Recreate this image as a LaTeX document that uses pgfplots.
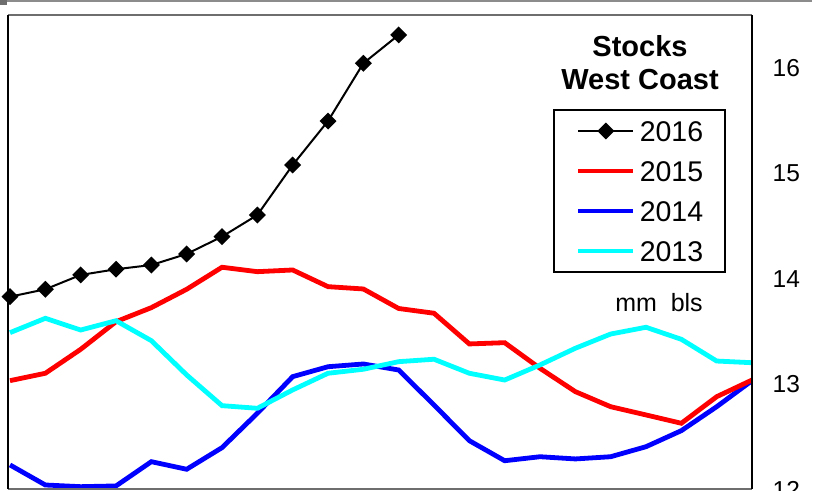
\documentclass[border=0pt]{standalone}
\usepackage{fontspec}
\setmainfont{Liberation Sans}
\usepackage{pgfplots}
\pgfplotsset{compat=1.18}
\usepackage{pgfplotstable}
\definecolor{cy}{RGB}{0,255,255}
\definecolor{rd}{RGB}{255,0,0}
\definecolor{bl}{RGB}{0,0,255}
\definecolor{topgray}{RGB}{140,140,140}
\definecolor{boxgray}{RGB}{110,110,110}

\pgfplotstableread{
x y15 y14 y13
0 13.041 12.242 13.496
1 13.111 12.052 13.632
2 13.338 12.036 13.521
3 13.600 12.043 13.609
4 13.733 12.273 13.420
5 13.907 12.201 13.095
6 14.116 12.406 12.804
7 14.074 12.732 12.779
8 14.090 13.079 12.953
9 13.932 13.173 13.111
10 13.910 13.199 13.149
11 13.725 13.142 13.221
12 13.680 12.810 13.244
13 13.389 12.472 13.111
14 13.401 12.282 13.047
15 13.158 12.320 13.190
16 12.937 12.299 13.348
17 12.794 12.320 13.483
18 12.716 12.415 13.547
19 12.637 12.567 13.433
20 12.889 12.794 13.227
21 13.047 13.041 13.211
}\tbl

\pgfplotstableread{
x y16
0 13.837
1 13.907
2 14.043
3 14.097
4 14.137
5 14.242
6 14.406
7 14.611
8 15.085
9 15.502
10 16.049
11 16.318
}\tblsix

\begin{document}
\begin{tikzpicture}
\begin{axis}[
  scale only axis, width=744pt, height=474pt,
  xmin=-0.057, xmax=21, ymin=12.014, ymax=16.507,
  xtick=\empty, ytick={12,13,14,15,16},
  yticklabel pos=right, major tick length=0pt,
  /pgf/number format/assume math mode=true,
  yticklabel style={font=\fontsize{24.5}{24.5}\selectfont, anchor=west, inner sep=0pt, xshift=20.5pt, yshift=0.6pt},
  axis line style={draw=none},
  legend image code/.code={\draw[mark repeat=2,mark phase=2,#1] plot coordinates {(0pt,0pt) (27.5pt,0pt) (55pt,0pt)};},
  legend cell align=left,
  legend style={at={(rel axis cs:0.7325,0.8017)}, anchor=north west,
    draw=black, line width=2pt, fill=white,
    inner xsep=22pt, inner ysep=10.75pt, row sep=19.5pt, column sep=4pt,
    nodes={inner sep=0pt, text height=20.5pt, text depth=0pt, font=\fontsize{28.5}{28.5}\selectfont}},
]
\addlegendimage{black, line width=2pt, mark=square*, mark size=5pt, mark options={rotate=45, solid, fill=black}}
\addlegendentry{2016}
\addlegendimage{rd, line width=4.8pt}
\addlegendentry{2015}
\addlegendimage{bl, line width=4.8pt}
\addlegendentry{2014}
\addlegendimage{cy, line width=4.8pt}
\addlegendentry{2013}

\addplot[forget plot, bl, line width=4.8pt] table[x=x, y=y14] {\tbl};
\addplot[forget plot, rd, line width=4.8pt] table[x=x, y=y15] {\tbl};
\addplot[forget plot, cy, line width=4.8pt] table[x=x, y=y13] {\tbl};
\addplot[forget plot, black, line width=2pt, mark=square*, mark size=5pt, mark options={rotate=45, solid, fill=black}] table[x=x, y=y16] {\tblsix};

\coordinate (c12) at (axis cs:21,12);
\node[font=\bfseries\fontsize{29}{29}\selectfont, anchor=base] at (rel axis cs:0.8495,0.912) {Stocks};
\node[font=\bfseries\fontsize{29}{29}\selectfont, anchor=base] at (rel axis cs:0.8495,0.8418) {West Coast};
\node[font=\fontsize{25}{25}\selectfont, anchor=base] at (rel axis cs:0.875,0.3755) {mm~~bls};
\end{axis}
\node[font=\fontsize{24.5}{24.5}\selectfont, anchor=west, inner sep=0pt] at ([xshift=20.5pt,yshift=0.6pt]c12) {12};
\draw[boxgray, line width=1.3pt] (current axis.north west) -- (current axis.north east);
\draw[boxgray, line width=1.3pt] (current axis.south west) -- (current axis.south east);
\draw[black, line width=1.5pt] (current axis.south west) -- (current axis.north west);
\draw[black, line width=1.5pt] (current axis.south east) -- (current axis.north east);
\pgfresetboundingbox
\path[use as bounding box] (current axis.south west) ++(-8pt,-1pt) rectangle ++(813pt,490pt);
\fill[topgray] (current axis.south west) ++(-8pt,489pt) rectangle ++(812pt,-2.4pt);
\fill[boxgray] (current axis.south west) ++(-8pt,489pt) rectangle ++(7pt,-5pt);
\end{tikzpicture}
\end{document}
